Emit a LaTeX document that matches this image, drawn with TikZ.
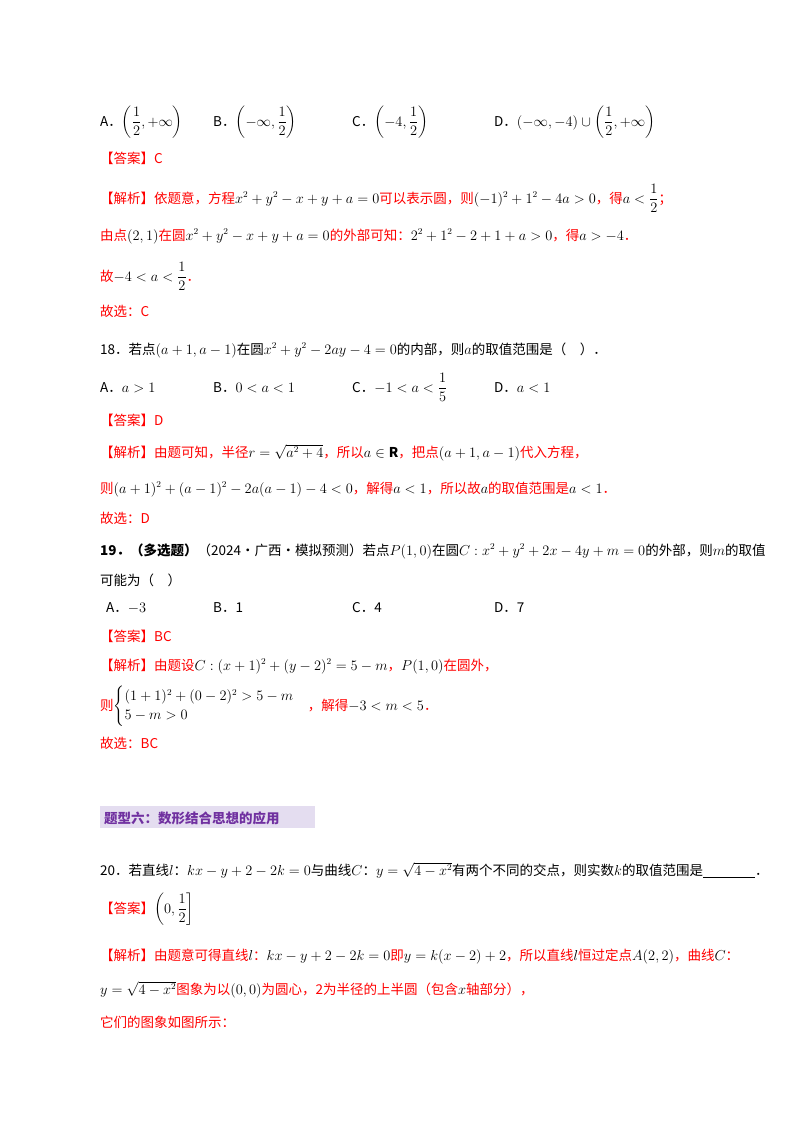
\documentclass[tikz,border=0pt]{standalone}
\usepackage{amsmath,amssymb}
\usepackage{fontspec}
\setmainfont{Noto Sans CJK SC}
\definecolor{rd}{HTML}{FF0000}
\definecolor{pu}{HTML}{7030A0}
\definecolor{lav}{HTML}{E4DDF0}
\begin{document}
\begin{tikzpicture}[x=1pt,y=-1pt,
  t/.style={anchor=base west,inner sep=0pt,font=\fontsize{13.5}{16}\selectfont},
  r/.style={t,text=rd}]
\useasboundingbox (0,0) rectangle (800,1132);
% options 17
\node[t] (a1) at (100,126) {A．$\left(\dfrac12,+\infty\right)$};
\node[t] (b1) at (213,126) {B．$\left(-\infty,\dfrac12\right)$};
\node[t] (c1) at (352,126) {C．$\left(-4,\dfrac12\right)$};
\node[t] (d1) at (494,126) {D．$(-\infty,-4)\cup\left(\dfrac12,+\infty\right)$};
\node[r] (ans1) at (100,163) {【答案】C};
\node[r] (j1) at (100,203) {【解析】依题意，方程\textcolor{black}{$x^2+y^2-x+y+a=0$}可以表示圆，则\textcolor{black}{$(-1)^2+1^2-4a>0$}，得\textcolor{black}{$a<\dfrac12$}；};
\node[r] (j2) at (100,240) {由点\textcolor{black}{$(2,1)$}在圆\textcolor{black}{$x^2+y^2-x+y+a=0$}的外部可知：\textcolor{black}{$2^2+1^2-2+1+a>0$}，得\textcolor{black}{$a>-4$}．};
\node[r] (j3) at (100,281) {故\textcolor{black}{$-4<a<\dfrac12$}．};
\node[r] (s1) at (100,316) {故选：C};
% 18
\node[t] (q18) at (100,354) {18．若点$(a+1,a-1)$在圆$x^2+y^2-2ay-4=0$的内部，则$a$的取值范围是（\quad ）．};
\node[t] (a2) at (100,392) {A．$a>1$};
\node[t] (b2) at (213,392) {B．$0<a<1$};
\node[t] (c2) at (352,392) {C．$-1<a<\dfrac15$};
\node[t] (d2) at (494,392) {D．$a<1$};
\node[r] (ans2) at (100,425) {【答案】D};
\node[r] (k1) at (100,457) {【解析】由题可知，半径\textcolor{black}{$r=\sqrt{a^2+4}$}，所以\textcolor{black}{$a\in\mathbf{R}$}，把点\textcolor{black}{$(a+1,a-1)$}代入方程，};
\node[r] (k2) at (100,493) {则\textcolor{black}{$(a+1)^2+(a-1)^2-2a(a-1)-4<0$}，解得\textcolor{black}{$a<1$}，所以故\textcolor{black}{$a$}的取值范围是\textcolor{black}{$a<1$}．};
\node[r] (s2) at (100,523) {故选：D};
% 19
\node[t] (q19) at (100,555) {\textbf{19．（多选题）}（2024·广西·模拟预测）若点$P(1,0)$在圆$C:x^2+y^2+2x-4y+m=0$的外部，则$m$的取值};
\node[t] (q19b) at (100,585) {可能为（\quad ）};
\node[t] (a3) at (100,612) {\ \ A．$-3$};
\node[t] (b3) at (213,612) {B．1};
\node[t] (c3) at (352,612) {C．4};
\node[t] (d3) at (494,612) {D．7};
\node[r] (ans3) at (100,641) {【答案】BC};
\node[r] (m1) at (100,670) {【解析】由题设\textcolor{black}{$C:(x+1)^2+(y-2)^2=5-m$}，\textcolor{black}{$P(1,0)$}在圆外，};
\node[r] (m2) at (100,710) {则\textcolor{black}{$\begin{cases}(1+1)^2+(0-2)^2>5-m\\5-m>0\end{cases}$}，解得\textcolor{black}{$-3<m<5$}．};
\node[r] (s3) at (100,748) {故选：BC};
% header
\fill[lav] (100,806) rectangle (315,828);
\node[t,text=pu,font=\fontsize{13.5}{16}\selectfont\bfseries] (hd) at (104,823) {题型六：数形结合思想的应用};
% 20
\node[t] (q20) at (100,875) {20．若直线$l$：$kx-y+2-2k=0$与曲线$C$：$y=\sqrt{4-x^2}$有两个不同的交点，则实数$k$的取值范围是\underline{\hspace{52pt}}．};
\node[r] (ans4) at (100,913) {【答案】\textcolor{black}{$\left(0,\dfrac12\right]$}};
\node[r] (n1) at (100,960) {【解析】由题意可得直线\textcolor{black}{$l$}：\textcolor{black}{$kx-y+2-2k=0$}即\textcolor{black}{$y=k(x-2)+2$}，所以直线\textcolor{black}{$l$}恒过定点\textcolor{black}{$A(2,2)$}，曲线\textcolor{black}{$C$}：};
\node[r] (n2) at (100,994) {\textcolor{black}{$y=\sqrt{4-x^2}$}图象为以\textcolor{black}{$(0,0)$}为圆心，2为半径的上半圆（包含\textcolor{black}{$x$}轴部分），};
\node[r] (n3) at (100,1027) {它们的图象如图所示：};
\end{tikzpicture}
\end{document}
